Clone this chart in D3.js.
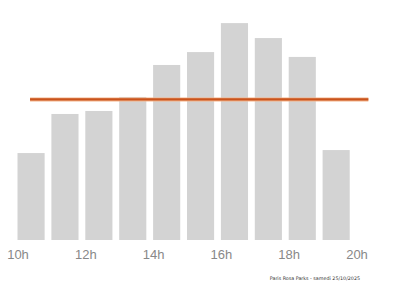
<!DOCTYPE html>
<html>
<head>
<meta charset="utf-8">
<script src="https://cdn.jsdelivr.net/npm/d3@7"></script>
<style>
  body { margin: 0; background: #fff; }
  svg { display: block; font-family: "DejaVu Sans", sans-serif; }
</style>
</head>
<body>
<svg id="chart"></svg>
<script>
// Hourly attendance (starting hour of each bar)
const hours = [10, 11, 12, 13, 14, 15, 16, 17, 18, 19];
const counts = [37.8, 54.8, 56.1, 62.2, 76.1, 81.7, 94.3, 87.8, 79.6, 39.1];
// Average line over the opening hours
const avgValue = 61.1;
const avgSpan = [10.37, 20.35];
const tickHours = [10, 12, 14, 16, 18, 20];
const caption = "Paris Rosa Parks - samedi 25/10/2025";

const width = 400, height = 286;

const svg = d3.select("#chart")
    .attr("width", width)
    .attr("height", height);

const x = d3.scaleLinear()
    .domain([10, 20])
    .range([17.5, 356.5]);

const y = d3.scaleLinear()
    .domain([0, 100])
    .range([240, 10]);

// bars
svg.append("g")
    .selectAll("rect")
    .data(hours)
    .enter()
    .append("rect")
    .attr("x", d => x(d))
    .attr("y", (d, i) => y(counts[i]))
    .attr("width", x(10.8) - x(10))
    .attr("height", (d, i) => y(0) - y(counts[i]))
    .attr("fill", "#d3d3d3");

// average line: soft halo then main stroke
const lineY = y(avgValue);
svg.append("line")
    .attr("x1", x(avgSpan[0])).attr("x2", x(avgSpan[1]))
    .attr("y1", lineY).attr("y2", lineY)
    .attr("stroke", "#f3b48a")
    .attr("stroke-width", 4);
svg.append("line")
    .attr("x1", x(avgSpan[0])).attr("x2", x(avgSpan[1]))
    .attr("y1", lineY).attr("y2", lineY)
    .attr("stroke", "#c9531c")
    .attr("stroke-width", 2.2);

// x axis
const axis = svg.append("g")
    .attr("transform", `translate(0,${y(0)})`)
    .call(d3.axisBottom(x)
        .tickValues(tickHours)
        .tickFormat(d => d + "h")
        .tickSize(0)
        .tickPadding(10));
axis.select(".domain").remove();
axis.selectAll("text")
    .attr("fill", "#888")
    .style("font-size", "13px");

// caption
svg.append("text")
    .attr("x", 360)
    .attr("y", 280)
    .attr("text-anchor", "end")
    .attr("fill", "#333")
    .style("font-size", "4.8px")
    .text(caption);
</script>
</body>
</html>
